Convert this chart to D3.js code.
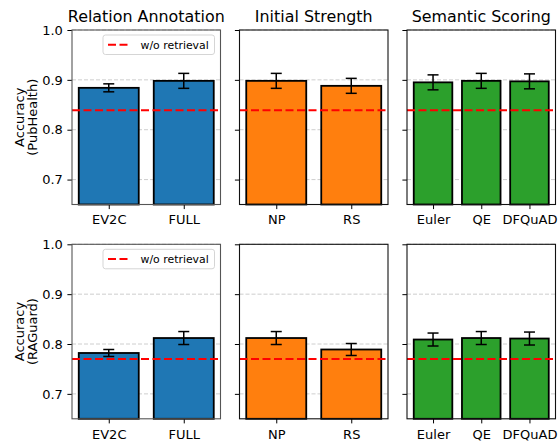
<!DOCTYPE html>
<html lang="en">
<head>
    <meta charset="UTF-8">
    <title>Ablation</title>
    <script src="https://cdn.jsdelivr.net/npm/d3@7/dist/d3.min.js"></script>
    <style>
        body { margin: 0; background: #fff; }
        text { font-family: "DejaVu Sans", sans-serif; fill: #000; }
    </style>
</head>
<body>
<script>
    // data
    var groupTitles = ["Relation Annotation", "Initial Strength", "Semantic Scoring"];
    var categories = [["EV2C", "FULL"], ["NP", "RS"], ["Euler", "QE", "DFQuAD"]];
    var colors = ["#1f77b4", "#ff7f0e", "#2ca02c"];

    var pubhealthMeans = [[0.884, 0.898], [0.898, 0.888], [0.895, 0.898, 0.897]];
    var pubhealthErrs  = [[0.008, 0.015], [0.015, 0.015], [0.015, 0.015, 0.015]];
    var raguardMeans   = [[0.782, 0.812], [0.812, 0.789], [0.809, 0.812, 0.811]];
    var raguardErrs    = [[0.007, 0.013], [0.013, 0.012], [0.013, 0.013, 0.013]];

    var baselines = [0.839, 0.770];
    var rowLabels = [["Accuracy", "(PubHealth)"], ["Accuracy", "(RAGuard)"]];
    var yTicks = [0.7, 0.8, 0.9, 1.0];
    var legendLabel = "w/o retrieval";

    var rows = [
        {means: pubhealthMeans, errs: pubhealthErrs, base: baselines[0], label: rowLabels[0]},
        {means: raguardMeans, errs: raguardErrs, base: baselines[1], label: rowLabels[1]}
    ];

    // layout
    var width = 558, height = 442;
    var rowTop = [30, 244.3];
    var panelH = 174.5;
    var colLeft = [72, 239.5, 407];
    var panelW = 148.5;

    var svg = d3.select("body").append("svg")
        .attr("width", width)
        .attr("height", height);

    var y = d3.scaleLinear().domain([0.65, 1.0]).range([panelH, 0]);

    rows.forEach(function (row, r) {
        categories.forEach(function (cats, c) {
            var n = cats.length;
            var pad = 0.05 * (n - 0.2);
            var x = d3.scaleLinear()
                .domain([-0.4 - pad, n - 0.6 + pad])
                .range([0, panelW]);
            var bw = x(0.8) - x(0);

            var g = svg.append("g")
                .attr("transform", "translate(" + colLeft[c] + "," + rowTop[r] + ")");

            // grid
            g.selectAll("line.grid")
                .data(yTicks)
                .enter().append("line")
                .attr("class", "grid")
                .attr("x1", 0).attr("x2", panelW)
                .attr("y1", function (d) { return y(d); })
                .attr("y2", function (d) { return y(d); })
                .attr("stroke", "#c8c8c8")
                .attr("stroke-width", 0.9)
                .attr("stroke-dasharray", "4,2");

            // bars
            g.selectAll("rect.bar")
                .data(row.means[c])
                .enter().append("rect")
                .attr("class", "bar")
                .attr("x", function (d, i) { return x(i - 0.4); })
                .attr("y", function (d) { return y(d); })
                .attr("width", bw)
                .attr("height", function (d) { return panelH - y(d); })
                .attr("fill", colors[c])
                .attr("stroke", "#000")
                .attr("stroke-width", 1.8);

            // error bars
            var errs = row.errs[c];
            var eb = g.selectAll("g.err")
                .data(row.means[c])
                .enter().append("g")
                .attr("class", "err");
            eb.append("line")
                .attr("x1", function (d, i) { return x(i); })
                .attr("x2", function (d, i) { return x(i); })
                .attr("y1", function (d, i) { return y(d + errs[i]); })
                .attr("y2", function (d, i) { return y(d - errs[i]); })
                .attr("stroke", "#000").attr("stroke-width", 1.5);
            [1, -1].forEach(function (s) {
                eb.append("line")
                    .attr("x1", function (d, i) { return x(i) - 5.5; })
                    .attr("x2", function (d, i) { return x(i) + 5.5; })
                    .attr("y1", function (d, i) { return y(d + s * errs[i]); })
                    .attr("y2", function (d, i) { return y(d + s * errs[i]); })
                    .attr("stroke", "#000").attr("stroke-width", 1.5);
            });

            // baseline
            g.append("line")
                .attr("x1", 0).attr("x2", panelW)
                .attr("y1", y(row.base)).attr("y2", y(row.base))
                .attr("stroke", "#ff0000")
                .attr("stroke-width", 2)
                .attr("stroke-dasharray", "8,3.5");

            // axes
            var yAxis = d3.axisLeft(y).tickValues(yTicks).tickSize(4.6).tickPadding(4.6)
                .tickFormat(c === 0 ? d3.format(".1f") : function () { return ""; });
            var ya = g.append("g").call(yAxis);
            var xAxis = d3.axisBottom(x).tickValues(d3.range(n)).tickSize(4.6).tickPadding(6)
                .tickFormat(function (d) { return cats[d]; });
            var xa = g.append("g").attr("transform", "translate(0," + panelH + ")").call(xAxis);
            [ya, xa].forEach(function (a) {
                a.select(".domain").remove();
                a.selectAll("text").style("font-size", "13px").attr("fill", "#000");
                a.selectAll("line").attr("stroke", "#000").attr("stroke-width", 1);
            });

            // frame
            g.append("rect")
                .attr("width", panelW).attr("height", panelH)
                .attr("fill", "none")
                .attr("stroke", c === 0 ? "#555" : "#111")
                .attr("stroke-width", 1.1);

            if (r === 0) {
                g.append("text")
                    .attr("x", panelW / 2).attr("y", -8.5)
                    .attr("text-anchor", "middle")
                    .style("font-size", "15.9px")
                    .text(groupTitles[c]);
            }

            if (c === 0) {
                // legend
                var lg = g.append("g").attr("transform", "translate(" + (panelW - 117.5) + ",5)");
                lg.append("rect")
                    .attr("width", 111.5).attr("height", 19.5)
                    .attr("rx", 2.5)
                    .attr("fill", "#fff").attr("fill-opacity", 0.8)
                    .attr("stroke", "#d0d0d0").attr("stroke-width", 0.9);
                lg.append("line")
                    .attr("x1", 5).attr("x2", 28)
                    .attr("y1", 9.75).attr("y2", 9.75)
                    .attr("stroke", "#ff0000").attr("stroke-width", 2)
                    .attr("stroke-dasharray", "8,3.5");
                lg.append("text")
                    .attr("x", 37.5).attr("y", 13.7)
                    .style("font-size", "10.9px")
                    .text(legendLabel);

                // y label
                g.append("text")
                    .attr("transform", "translate(-48.5," + (panelH / 2) + ") rotate(-90)")
                    .attr("text-anchor", "middle")
                    .style("font-size", "13px")
                    .selectAll("tspan")
                    .data(row.label)
                    .enter().append("tspan")
                    .attr("x", 0)
                    .attr("dy", function (d, i) { return i === 0 ? 0 : 13; })
                    .text(function (d) { return d; });
            }
        });
    });
</script>
</body>
</html>
